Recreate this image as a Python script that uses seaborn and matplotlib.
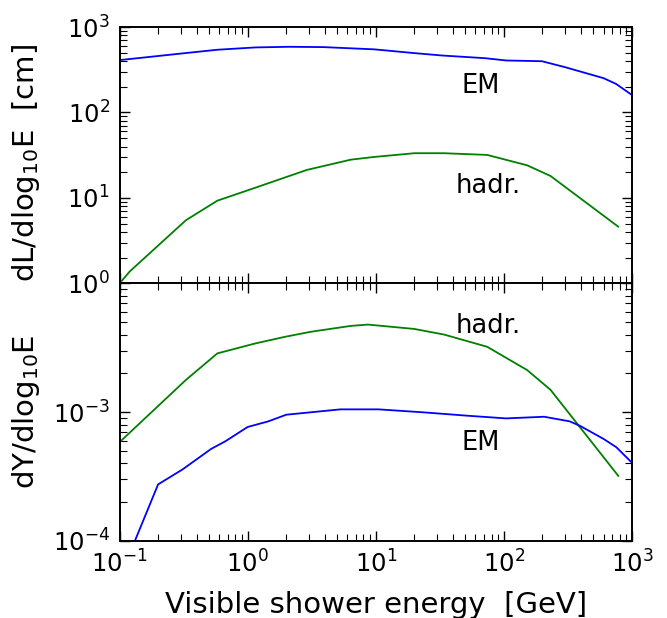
import matplotlib
matplotlib.use("Agg")
import matplotlib.pyplot as plt
import seaborn as sns
import numpy as np

# track length per decade of energy [cm]
em_len_e = [0.1, 0.29, 0.58, 1.15, 2.1, 3.9, 9.7, 20, 33, 71, 104, 198, 300, 600, 750, 1000]
em_len = [410, 486, 542, 577, 587, 582, 548, 495, 464, 432, 406, 398, 339, 252, 216, 160]

had_len_e = [0.1, 0.12, 0.33, 0.58, 1.15, 2.9, 6.4, 9.7, 20, 34, 74, 152, 231, 783]
had_len = [1.0, 1.38, 5.5, 9.3, 13.2, 21.3, 28.1, 30.2, 33.4, 33.4, 31.9, 24.1, 18.1, 4.6]

# yield per decade of energy
had_yld_e = [0.1, 0.33, 0.58, 1.15, 1.96, 3.1, 6.4, 8.7, 20, 34, 74, 152, 231, 783]
had_yld = [5.83e-4, 1.78e-3, 2.86e-3, 3.42e-3, 3.85e-3, 4.21e-3, 4.68e-3, 4.79e-3,
           4.43e-3, 4.01e-3, 3.22e-3, 2.12e-3, 1.49e-3, 3.18e-4]

em_yld_e = [0.1, 0.2, 0.31, 0.52, 0.67, 1.0, 1.45, 2.0, 5.3, 10.5, 24, 52, 104,
            206, 326, 394, 600, 754, 1000]
em_yld = [5.1e-5, 2.74e-4, 3.58e-4, 5.18e-4, 5.93e-4, 7.66e-4, 8.47e-4, 9.54e-4,
          1.05e-3, 1.05e-3, 9.94e-4, 9.37e-4, 8.93e-4, 9.2e-4, 8.47e-4, 7.8e-4,
          6.18e-4, 5.33e-4, 4.03e-4]

sns.set_style("ticks")
plt.rcParams.update({
    "font.family": ["DejaVu Sans"],
    "axes.edgecolor": "black",
    "axes.labelcolor": "black",
    "text.color": "black",
    "axes.linewidth": 1.4,
    "axes.unicode_minus": False,
    "mathtext.default": "regular",
})

blue = "#0000ff"
green = "#008000"
tick_fs = 17.5
label_fs = 21
text_fs = 18.5

fig = plt.figure(figsize=(6.67, 6.18), dpi=100)
ax1 = fig.add_axes([0.1792, 0.5413, 0.7684, 0.4150])
ax2 = fig.add_axes([0.1792, 0.1251, 0.7684, 0.4162], sharex=ax1)

sns.lineplot(x=em_len_e, y=em_len, ax=ax1, color=blue, lw=1.3)
sns.lineplot(x=had_len_e, y=had_len, ax=ax1, color=green, lw=1.3)
sns.lineplot(x=had_yld_e, y=had_yld, ax=ax2, color=green, lw=1.3)
sns.lineplot(x=em_yld_e, y=em_yld, ax=ax2, color=blue, lw=1.3)

for ax in (ax1, ax2):
    ax.set_xscale("log")
    ax.set_yscale("log")
    ax.set_xlim(0.1, 1000)
    ax.tick_params(which="both", direction="in", top=True, right=True,
                   labelsize=tick_fs, colors="black")
    ax.tick_params(which="major", length=7.2, width=1.0, pad=7)
    ax.tick_params(which="minor", length=4.7, width=0.8)

ax1.set_ylim(1, 1000)
ax2.set_ylim(1e-4, 1e-2)
ax2.set_yticks([1e-4, 1e-3, 1e-2], labels=["$10^{-4}$", "$10^{-3}$", ""])
ax1.tick_params(labelbottom=False)

ax1.text(66, 168, "EM", ha="center", va="baseline", fontsize=text_fs)
ax1.text(75, 11.3, "hadr.", ha="center", va="baseline", fontsize=text_fs)
ax2.text(75, 4.14e-3, "hadr.", ha="center", va="baseline", fontsize=text_fs)
ax2.text(66, 5.07e-4, "EM", ha="center", va="baseline", fontsize=text_fs)

ax1.set_ylabel("dL/dlog$_{10}$E  [cm]", fontsize=label_fs)
ax2.set_ylabel("dY/dlog$_{10}$E", fontsize=label_fs)
ax2.set_xlabel("Visible shower energy  [GeV]", fontsize=label_fs, labelpad=10)
ax1.yaxis.set_label_coords(-0.152, 0.47)
ax2.yaxis.set_label_coords(-0.152, 0.5)

fig.savefig("out.png", dpi=100)
